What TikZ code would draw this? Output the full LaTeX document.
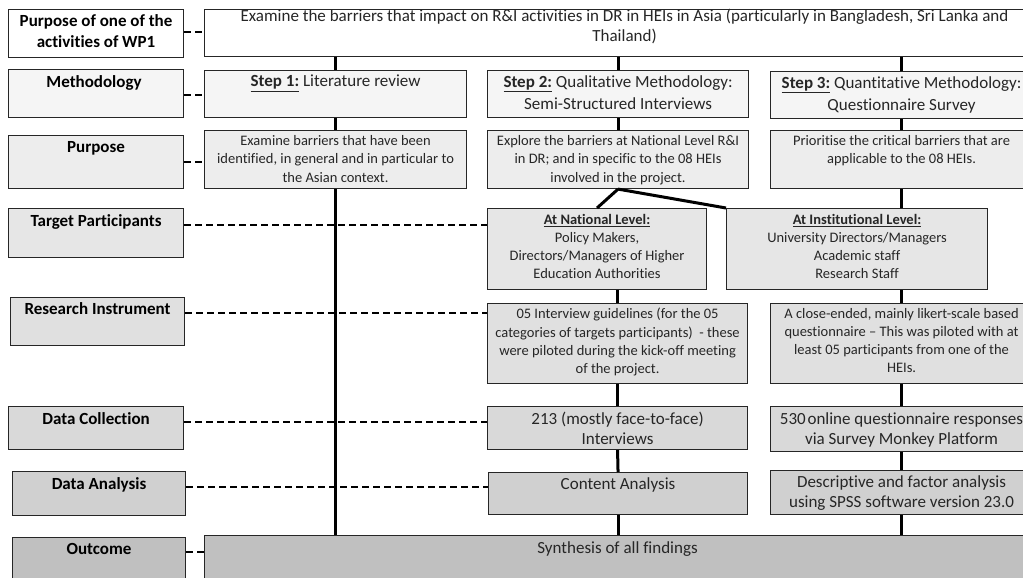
\documentclass[tikz,border=0pt]{standalone}
\usepackage{fontspec}
\setmainfont{Carlito}[Ligatures=NoCommon]
\definecolor{rowa}{HTML}{FFFFFF}
\definecolor{rowb}{HTML}{F5F5F5}
\definecolor{rowc}{HTML}{EDEDED}
\definecolor{rowd}{HTML}{E6E6E6}
\definecolor{rowe}{HTML}{E0E0E0}
\definecolor{rowf}{HTML}{D9D9D9}
\definecolor{rowg}{HTML}{D0D0D0}
\definecolor{rowh}{HTML}{C0C0C0}
\definecolor{bodytext}{HTML}{262626}
\begin{document}
\begin{tikzpicture}[x=1pt,y=-1pt,
  box/.style={draw=black!85, line width=1.1pt, anchor=north west, inner sep=0pt},
  lbl/.style={font=\bfseries\fontsize{17}{21.5}\selectfont, anchor=north, align=center, inner sep=0pt, text=black},
  toptxt/.style={font=\fontsize{17}{20}\selectfont, anchor=north, align=center, inner sep=0pt, text=bodytext},
  steptxt/.style={font=\fontsize{17}{21.5}\selectfont, anchor=north, align=center, inner sep=0pt, text=bodytext},
  smalltxt/.style={font=\fontsize{14.5}{18.2}\selectfont, anchor=north, align=center, inner sep=0pt, text=bodytext},
  datatxt/.style={font=\fontsize{17}{20}\selectfont, anchor=north, align=center, inner sep=0pt, text=bodytext},
  link/.style={line width=3pt, black},
  dashlink/.style={line width=1.2pt, black, dash pattern=on 6.5pt off 4.5pt}
]
\clip (0,0) rectangle (1023,578);
\useasboundingbox (0,0) rectangle (1023,578);
% ---- row 1
\node[box, fill=rowa, minimum width=175pt, minimum height=48pt] (L1) at (8,9) {};
\node[box, fill=rowa, minimum width=840pt, minimum height=47pt] (T1) at (204,9) {};
% ---- row 2
\node[box, fill=rowb, minimum width=175pt, minimum height=48pt] (L2) at (8,69) {};
\node[box, fill=rowb, minimum width=262pt, minimum height=47pt] (S1) at (204,70) {};
\node[box, fill=rowb, minimum width=261pt, minimum height=47pt] (S2) at (487,70) {};
\node[box, fill=rowb, minimum width=262pt, minimum height=47pt] (S3) at (770,71) {};
% ---- row 3
\node[box, fill=rowc, minimum width=175pt, minimum height=53pt] (L3) at (8,135) {};
\node[box, fill=rowc, minimum width=262pt, minimum height=58pt] (P1) at (204,130) {};
\node[box, fill=rowc, minimum width=261pt, minimum height=58pt] (P2) at (487,130) {};
\node[box, fill=rowc, minimum width=262pt, minimum height=58pt] (P3) at (770,130) {};
% ---- row 4
\node[box, fill=rowd, minimum width=175pt, minimum height=49pt] (L4) at (8,208) {};
\node[box, fill=rowd, minimum width=219pt, minimum height=81pt] (N) at (487,208) {};
\node[box, fill=rowd, minimum width=261pt, minimum height=81pt] (I) at (726,208) {};
% ---- row 5
\node[box, fill=rowe, minimum width=174pt, minimum height=48pt] (L5) at (10,297) {};
\node[box, fill=rowe, minimum width=260pt, minimum height=80pt] (R2) at (487,303) {};
\node[box, fill=rowe, minimum width=262pt, minimum height=80pt] (R3) at (770,303) {};
% ---- row 6
\node[box, fill=rowf, minimum width=175pt, minimum height=43pt] (L6) at (8,406) {};
\node[box, fill=rowf, minimum width=260pt, minimum height=43pt] (C2) at (487,406) {};
\node[box, fill=rowf, minimum width=262pt, minimum height=45pt] (C3) at (770,406) {};
% ---- row 7
\node[box, fill=rowg, minimum width=173pt, minimum height=44pt] (L7) at (12,471) {};
\node[box, fill=rowg, minimum width=259pt, minimum height=42pt] (A2) at (488,472) {};
\node[box, fill=rowg, minimum width=262pt, minimum height=44pt] (A3) at (770,470) {};
% ---- row 8
\node[box, fill=rowh, minimum width=173pt, minimum height=60pt] (L8) at (12,537) {};
\node[box, fill=rowh, minimum width=840pt, minimum height=60pt] (O) at (204,535) {};

% ---- texts
\node[lbl] (L1t) at ([yshift=-5pt]L1.north) {Purpose of one of the\\activities of WP1};
\node[toptxt] (T1t) at ([yshift=0pt]T1.north) {Examine the barriers that impact on R\&I activities in DR in HEIs in Asia (particularly in Bangladesh, Sri Lanka and\\Thailand)};
\node[lbl] (L2t) at ([xshift=-2pt,yshift=-6.5pt]L2.north) {Methodology};
\node[steptxt] (S1t) at ([yshift=-5pt]S1.north) {\underline{\textbf{Step 1:}} Literature review};
\node[steptxt] (S2t) at ([yshift=-5.5pt]S2.north) {\underline{\textbf{Step 2:}} Qualitative Methodology:\\Semi-Structured Interviews};
\node[steptxt] (S3t) at ([yshift=-5.5pt]S3.north) {\underline{\textbf{Step 3:}} Quantitative Methodology:\\Questionnaire Survey};
\node[lbl] (L3t) at ([yshift=-6.5pt]L3.north) {Purpose};
\node[smalltxt] (P1t) at ([yshift=-5.5pt]P1.north) {Examine barriers that have been\\identified, in general and in particular to\\the Asian context.};
\node[smalltxt] (P2t) at ([yshift=-5.5pt]P2.north) {Explore the barriers at National Level R\&I\\in DR; and in specific to the 08 HEIs\\involved in the project.};
\node[smalltxt] (P3t) at ([yshift=-5.5pt]P3.north) {Prioritise the critical barriers that are\\applicable to the 08 HEIs.};
\node[lbl] (L4t) at ([yshift=-6pt]L4.north) {Target Participants};
\node[smalltxt] (Nt) at ([yshift=-6pt]N.north) {\underline{\textbf{At National Level:}}\\Policy Makers,\\Directors/Managers of Higher\\Education Authorities};
\node[smalltxt] (It) at ([yshift=-6pt]I.north) {\underline{\textbf{At Institutional Level:}}\\University Directors/Managers\\Academic staff\\Research Staff};
\node[lbl] (L5t) at ([yshift=-5pt]L5.north) {Research Instrument};
\node[smalltxt] (R2t) at ([yshift=-5pt]R2.north) {05 Interview guidelines (for the 05\\categories of targets participants)~ - these\\were piloted during the kick-off meeting\\of the project.};
\node[smalltxt] (R3t) at ([yshift=-5pt]R3.north) {A close-ended, mainly likert-scale based\\questionnaire -- This was piloted with at\\least 05 participants from one of the\\HEIs.};
\node[lbl] (L6t) at ([yshift=-6pt]L6.north) {Data Collection};
\node[datatxt] (C2t) at ([yshift=-6pt]C2.north) {213 (mostly face-to-face)\\Interviews};
\node[datatxt] (C3t) at ([yshift=-6pt]C3.north) {530\hspace{0.1em}online questionnaire responses\\via Survey Monkey Platform};
\node[lbl] (L7t) at ([yshift=-6pt]L7.north) {Data Analysis};
\node[datatxt] (A2t) at ([yshift=-5pt]A2.north) {Content Analysis};
\node[datatxt] (A3t) at ([yshift=-5pt]A3.north) {Descriptive and factor analysis\\using SPSS software version 23.0};
\node[lbl] (L8t) at ([yshift=-6pt]L8.north) {Outcome};
\node[datatxt] (Ot) at ([xshift=-7pt,yshift=-6pt]O.north) {Synthesis of all findings};

% ---- solid connectors
\draw[link] (T1.south -| S1.north) -- (S1.north);
\draw[link] (S1.south) -- (P1.north);
\draw[link] (P1.south) -- (O.north -| P1.south);
\draw[link] (T1.south -| S2.north) -- (S2.north);
\draw[link] (S2.south) -- (P2.north);
\draw[link] (P2.south) -- (N.north);
\draw[link] (P2.south) -- (I.north west);
\draw[link] (N.south -| R2.north) -- (R2.north);
\draw[link] (R2.south) -- (C2.north);
\draw[link] (C2.south) -- (A2.north);
\draw[link] (A2.south) -- (O.north -| A2.south);
\draw[link] (T1.south -| S3.north) -- (S3.north);
\draw[link] (S3.south) -- (P3.north);
\draw[link] (P3.south) -- (I.north -| P3.south);
\draw[link] (I.south -| R3.north) -- (R3.north);
\draw[link] (R3.south) -- (C3.north);
\draw[link] (C3.south) -- (A3.north);
\draw[link] (A3.south) -- (O.north -| A3.south);

% ---- dashed connectors
\draw[dashlink] (L1.east |- 0,32) -- (T1.west |- 0,32);
\draw[dashlink] (L2.east |- 0,95) -- (S1.west |- 0,95);
\draw[dashlink] (L3.east |- 0,162) -- (P1.west |- 0,162);
\draw[dashlink] (L4.east |- 0,225) -- (N.west |- 0,225);
\draw[dashlink] (L5.east |- 0,313) -- (R2.west |- 0,313);
\draw[dashlink] (L6.east |- 0,422) -- (C2.west |- 0,422);
\draw[dashlink] (L7.east |- 0,487) -- (A2.west |- 0,487);
\draw[dashlink] (L8.east |- 0,552) -- (O.west |- 0,552);
\end{tikzpicture}
\end{document}
